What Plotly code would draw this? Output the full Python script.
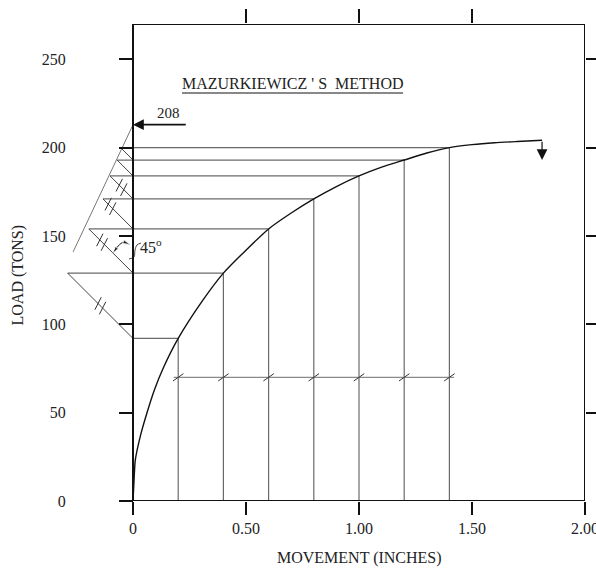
import math
import plotly.graph_objects as go

# ---------------- data ----------------
MOVE_STEPS = [0.2, 0.4, 0.6, 0.8, 1.0, 1.2, 1.4]          # movement increments (in)
LOAD_AT_STEPS = [92, 129, 154, 171, 184, 193, 200]         # load on curve at each increment (tons)

CURVE_MOVE = [0, 0.004, 0.01, 0.035, 0.062, 0.095, 0.133, 0.2, 0.3, 0.4, 0.5, 0.6,
              0.7, 0.8, 0.9, 1.0, 1.1, 1.2, 1.3, 1.4, 1.5, 1.6, 1.7, 1.81]
CURVE_LOAD = [0, 10, 23, 38, 50, 63, 75, 92, 112, 129, 142, 154,
              163, 171, 178, 184, 189, 193, 197, 200, 201.7, 202.8, 203.5, 204.2]

ULT_LOAD_LINE = [141, 213]          # fitted line through the 45-degree intersections
ULT_MOVE_LINE = [-0.265, 0]
ULT_LABEL = "208"
END_ARROW_LOAD = [204.2, 193]       # arrow hanging from curve end
HASH_LEVEL = 70                     # level of the equal-increment marker line
HASH_MOVE = [0.18, 1.42]
DOUBLE_HASH_FRAC = [0.5, 0.7, 0.75, 0.5]

X_TICKS = [0, 0.5, 1.0, 1.5, 2.0]
X_TICKTEXT = ["0", "0.50", "1.00", "1.50", "2.00"]
Y_TICKS = [0, 50, 100, 150, 200, 250]
Y_TICKTEXT = ["0", "50", "100", "150", "200", "250"]

TITLE = "MAZURKIEWICZ ' S  METHOD"
X_TITLE = "MOVEMENT (INCHES)"
Y_TITLE = "LOAD (TONS)"

# ---------------- layout geometry ----------------
W, H = 596, 568
ML, MR, MT, MB = 60, 11, 24, 67
XMIN, XMAX = -0.323, 2.0
YMIN, YMAX = 0, 270
PXX = (W - ML - MR) / (XMAX - XMIN)      # px per inch
PXY = (H - MT - MB) / (YMAX - YMIN)      # px per ton
K = PXY / PXX                            # 45 deg on screen: dx(in) per dLoad(ton)

FONT = "Liberation Serif"
GRAY = "#6a6a6a"

fig = go.Figure()

# vertical lines from axis up to the curve
vx, vy = [], []
for x, L in zip(MOVE_STEPS, LOAD_AT_STEPS):
    vx += [x, x, None]
    vy += [0, L, None]
fig.add_trace(go.Scatter(x=vx, y=vy, mode="lines", line=dict(color=GRAY, width=1.2),
                         hoverinfo="skip", showlegend=False))

# horizontal lines and 45-degree construction lines
diag_end_x = [0.0] + [-(LOAD_AT_STEPS[i] - LOAD_AT_STEPS[i - 1]) * K
                      for i in range(1, len(LOAD_AT_STEPS))]
hx, hy = [], []
for xs, x, L in zip(diag_end_x, MOVE_STEPS, LOAD_AT_STEPS):
    hx += [xs, x, None]
    hy += [L, L, None]
fig.add_trace(go.Scatter(x=hx, y=hy, mode="lines", line=dict(color=GRAY, width=1.2),
                         hoverinfo="skip", showlegend=False))

dx_, dy_ = [], []
for i in range(len(LOAD_AT_STEPS) - 1):
    dx_ += [0, diag_end_x[i + 1], None]
    dy_ += [LOAD_AT_STEPS[i], LOAD_AT_STEPS[i + 1], None]
fig.add_trace(go.Scatter(x=dx_, y=dy_, mode="lines", line=dict(color="#444", width=1),
                         hoverinfo="skip", showlegend=False))

# line through intersections -> ultimate load
fig.add_trace(go.Scatter(x=ULT_MOVE_LINE, y=ULT_LOAD_LINE, mode="lines",
                         line=dict(color="#777", width=1), hoverinfo="skip", showlegend=False))

# equal-increment marker line
fig.add_trace(go.Scatter(x=HASH_MOVE, y=[HASH_LEVEL, HASH_LEVEL], mode="lines",
                         line=dict(color="#8a8a8a", width=1.2), hoverinfo="skip", showlegend=False))
fig.add_trace(go.Scatter(x=MOVE_STEPS, y=[HASH_LEVEL] * len(MOVE_STEPS), mode="markers",
                         marker=dict(symbol="line-ne", size=9, angle=10,
                                     line=dict(color="#333", width=1)),
                         hoverinfo="skip", showlegend=False))

# double hash marks on the 45-degree lines
mx, my = [], []
off = 3.2 / math.sqrt(2)
for i, t in enumerate(DOUBLE_HASH_FRAC):
    x0 = t * diag_end_x[i + 1]
    y0 = LOAD_AT_STEPS[i] + t * (LOAD_AT_STEPS[i + 1] - LOAD_AT_STEPS[i])
    for s in (-1, 1):
        mx.append(x0 - s * off / PXX)
        my.append(y0 + s * off / PXY)
fig.add_trace(go.Scatter(x=mx, y=my, mode="markers",
                         marker=dict(symbol="line-ne", size=10, angle=-18,
                                     line=dict(color="#333", width=1)),
                         hoverinfo="skip", showlegend=False))

# load-movement curve
fig.add_trace(go.Scatter(x=CURVE_MOVE, y=CURVE_LOAD, mode="lines",
                         line=dict(color="#111", width=1.4, shape="spline", smoothing=0.6),
                         hoverinfo="skip", showlegend=False))

# 45 degree angle arc with arrowheads, and leader squiggle
ARC_MOVE = [-0.0885, -0.066, -0.040, -0.016]
ARC_LOAD = [140.4, 144.3, 146.6, 145.2]
fig.add_trace(go.Scatter(x=ARC_MOVE, y=ARC_LOAD, mode="lines",
                         line=dict(color="#111", width=1, shape="spline"),
                         hoverinfo="skip", showlegend=False))
fig.add_trace(go.Scatter(x=[ARC_MOVE[1], ARC_MOVE[0]], y=[ARC_LOAD[1], ARC_LOAD[0]], mode="markers",
                         marker=dict(symbol="arrow", size=[0, 7], angleref="previous", color="#111"),
                         hoverinfo="skip", showlegend=False))
fig.add_trace(go.Scatter(x=[ARC_MOVE[2], ARC_MOVE[3]], y=[ARC_LOAD[2], ARC_LOAD[3]], mode="markers",
                         marker=dict(symbol="arrow", size=[0, 7], angleref="previous", color="#111"),
                         hoverinfo="skip", showlegend=False))
SQ_MOVE = [-0.0177, 0.0044, 0.0088, 0.0177, 0.0354]
SQ_LOAD = [137.0, 138.1, 142.0, 144.9, 146.0]
fig.add_trace(go.Scatter(x=SQ_MOVE, y=SQ_LOAD, mode="lines",
                         line=dict(color="#333", width=0.9, shape="spline"),
                         hoverinfo="skip", showlegend=False))

# invisible trace for mirrored top/right tick axes
fig.add_trace(go.Scatter(x=[1], y=[100], xaxis="x2", yaxis="y2", mode="markers",
                         marker=dict(opacity=0), hoverinfo="skip", showlegend=False))

tickfont = dict(family=FONT, size=16, color="#222")
ypos = (0 - XMIN) / (XMAX - XMIN)

fig.update_layout(
    width=W, height=H, autosize=False, margin=dict(l=ML, r=MR, t=MT, b=MB, autoexpand=False),
    paper_bgcolor="white", plot_bgcolor="white",
    xaxis=dict(range=[XMIN, XMAX], tickvals=X_TICKS, ticktext=X_TICKTEXT, ticks="outside",
               ticklen=13, tickwidth=2, tickcolor="#111", showgrid=False, zeroline=False,
               showline=False, tickfont=tickfont, ticklabelstandoff=0, fixedrange=True,
               automargin=False, ticklabeloverflow="allow"),
    yaxis=dict(range=[YMIN, YMAX], tickvals=Y_TICKS, ticktext=Y_TICKTEXT, ticks="outside",
               ticklen=14, tickwidth=2, tickcolor="#111", showgrid=False, zeroline=False,
               showline=False, tickfont=tickfont, anchor="free", position=ypos,
               ticklabelstandoff=50, fixedrange=True, automargin=False,
               ticklabeloverflow="allow"),
    xaxis2=dict(range=[XMIN, XMAX], overlaying="x", side="top", anchor="y2",
                tickvals=[0.5, 1.0, 1.5], ticks="outside", ticklen=14, tickwidth=2,
                tickcolor="#111", showticklabels=False, showgrid=False, zeroline=False,
                showline=False, automargin=False, fixedrange=True),
    yaxis2=dict(range=[YMIN, YMAX], overlaying="y", side="right", anchor="x2",
                tickvals=[50, 100, 150, 200, 250], ticks="outside", ticklen=14, tickwidth=2,
                tickcolor="#111", showticklabels=False, showgrid=False, zeroline=False,
                showline=False, automargin=False, fixedrange=True),
    shapes=[
        dict(type="rect", xref="x", yref="y", x0=0, x1=XMAX, y0=YMIN, y1=YMAX,
             line=dict(color="#111", width=2), layer="above"),
        dict(type="line", xref="x", yref="y", x0=0.217, x1=1.195, y0=230.9, y1=230.9,
             line=dict(color="#888", width=2)),
    ],
    annotations=[
        dict(x=0.706, y=236.3, xref="x", yref="y", text=TITLE, showarrow=False,
             font=dict(family=FONT, size=16, color="#222")),
        dict(x=0, y=ULT_LOAD_LINE[1], ax=0.24, ay=ULT_LOAD_LINE[1], xref="x", yref="y",
             axref="x", ayref="y", text="", showarrow=True, arrowhead=2, arrowsize=1.2,
             arrowwidth=1.8, arrowcolor="#111", standoff=0),
        dict(x=0.155, y=219.5, xref="x", yref="y", text=ULT_LABEL, showarrow=False,
             font=dict(family=FONT, size=15, color="#222")),
        dict(x=CURVE_MOVE[-1], y=END_ARROW_LOAD[1], ax=CURVE_MOVE[-1], ay=END_ARROW_LOAD[0],
             xref="x", yref="y", axref="x", ayref="y", text="", showarrow=True,
             arrowhead=2, arrowsize=1.8, arrowwidth=1.2, arrowcolor="#111", standoff=0),
        dict(x=0.08, y=144.5, xref="x", yref="y", text="45<sup>o</sup>", showarrow=False,
             font=dict(family=FONT, size=16, color="#222")),
        dict(x=1.0, y=0, xref="x", yref="paper", yshift=-57, yanchor="middle",
             xanchor="center", text=X_TITLE, showarrow=False,
             font=dict(family=FONT, size=16, color="#222")),
        dict(x=ypos, y=0.5, xref="paper", yref="paper", xshift=-115, yshift=-12,
             xanchor="center", yanchor="middle",
             textangle=-90, text=Y_TITLE, showarrow=False,
             font=dict(family=FONT, size=16, color="#222")),
    ],
)

POST = ("document.documentElement.style.margin='0';document.body.style.margin='0';"
        "document.body.style.padding='0';document.body.style.overflow='hidden';"
        "document.documentElement.style.overflow='hidden';"
        "var gd=document.getElementById('{plot_id}');"
        "Plotly.relayout(gd,{width:%d,height:%d});" % (W, H))

fig.write_html("out.html", post_script=POST,
               config={"displayModeBar": False, "staticPlot": True})
